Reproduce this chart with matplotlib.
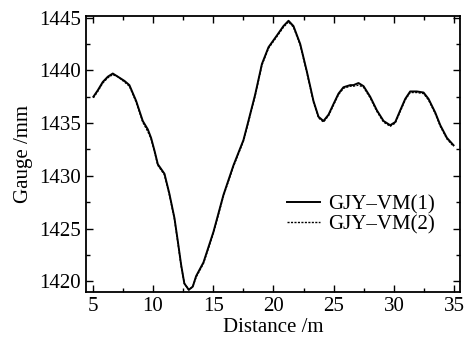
import matplotlib
matplotlib.use("Agg")
import matplotlib.pyplot as plt
from matplotlib.ticker import MultipleLocator

# distance (m) and gauge (mm)
dist = [5.05, 5.41, 5.83, 6.25, 6.66, 7.08, 7.63, 8.04, 8.6, 9.15, 9.57, 9.84,
        10.12, 10.4, 10.95, 11.36, 11.78, 12.06, 12.33, 12.6, 12.97, 13.3, 13.58,
        14.19, 15.02, 15.85, 16.68, 17.51, 17.92, 18.48, 19.04, 19.59, 20.28,
        20.83, 21.25, 21.66, 22.22, 22.77, 23.32, 23.74, 24.15, 24.57, 24.98,
        25.4, 25.81, 26.37, 26.64, 27.06, 27.48, 28.03, 28.59, 29.14, 29.69,
        30.11, 30.52, 30.94, 31.35, 31.9, 32.46, 32.87, 33.43, 33.85, 34.4, 34.95]

gauge_1 = [1437.5, 1438.1, 1438.9, 1439.4, 1439.7, 1439.4, 1439.0, 1438.6, 1437.1,
           1435.2, 1434.4, 1433.6, 1432.4, 1431.1, 1430.2, 1428.3, 1426.0, 1423.8,
           1421.6, 1419.8, 1419.2, 1419.5, 1420.5, 1421.8, 1424.7, 1428.2, 1431.0,
           1433.4, 1435.2, 1437.7, 1440.6, 1442.2, 1443.3, 1444.2, 1444.7, 1444.2,
           1442.5, 1439.9, 1437.1, 1435.6, 1435.2, 1435.8, 1436.8, 1437.8, 1438.4,
           1438.6, 1438.6, 1438.8, 1438.5, 1437.5, 1436.2, 1435.2, 1434.8, 1435.1,
           1436.2, 1437.3, 1438.0, 1438.0, 1437.9, 1437.3, 1436.0, 1434.8, 1433.6,
           1432.9]

gauge_2 = [1437.4, 1438.0, 1438.8, 1439.3, 1439.6, 1439.4, 1438.9, 1438.5, 1437.0,
           1435.1, 1434.2, 1433.5, 1432.3, 1431.0, 1430.1, 1428.2, 1425.9, 1423.7,
           1421.5, 1419.8, 1419.2, 1419.5, 1420.4, 1421.7, 1424.6, 1428.1, 1430.9,
           1433.3, 1435.1, 1437.6, 1440.5, 1442.1, 1443.2, 1444.1, 1444.6, 1444.1,
           1442.4, 1439.8, 1437.0, 1435.5, 1435.1, 1435.7, 1436.7, 1437.7, 1438.3,
           1438.5, 1438.5, 1438.6, 1438.4, 1437.4, 1436.1, 1435.1, 1434.7, 1435.0,
           1436.1, 1437.2, 1437.9, 1437.9, 1437.8, 1437.2, 1435.9, 1434.7, 1433.5,
           1432.8]

x_ticks = [5, 10, 15, 20, 25, 30, 35]
y_ticks = [1420, 1425, 1430, 1435, 1440, 1445]

plt.rcParams['font.family'] = ['Liberation Serif', 'DejaVu Serif']
plt.rcParams['font.size'] = 15

fig = plt.figure(figsize=(4.76, 3.41), dpi=100)
ax = fig.add_axes([0.181, 0.144, 0.785, 0.809])

ax.plot(dist, gauge_1, color='black', linewidth=1.4, linestyle='-', label='GJY\u2013VM(1)')
ax.plot(dist, gauge_2, color='black', linewidth=1.0, linestyle=(0, (1.5, 1.0)), label='GJY\u2013VM(2)')

ax.set_xlim(4.45, 35.47)
ax.set_ylim(1419.0, 1445.15)
ax.set_xticks(x_ticks)
ax.set_yticks(y_ticks)
ax.xaxis.set_minor_locator(MultipleLocator(2.5))
ax.yaxis.set_minor_locator(MultipleLocator(2.5))
ax.tick_params(which='both', direction='in', top=True, right=True, width=1.0)
ax.tick_params(which='major', length=5)
ax.tick_params(which='minor', length=3)
ax.tick_params(axis='both', labelsize=15, pad=4)
for s in ax.spines.values():
    s.set_linewidth(1.3)

ax.set_xlabel('Distance /m', fontsize=15, labelpad=1)
ax.set_ylabel('Gauge /mm', fontsize=15, labelpad=4)

ax.legend(loc='center left', bbox_to_anchor=(0.537, 0.28), frameon=False, fontsize=15,
          handlelength=1.6, handletextpad=0.4, labelspacing=0.05, borderpad=0,
          borderaxespad=0)

fig.savefig('out.png', dpi=100)
